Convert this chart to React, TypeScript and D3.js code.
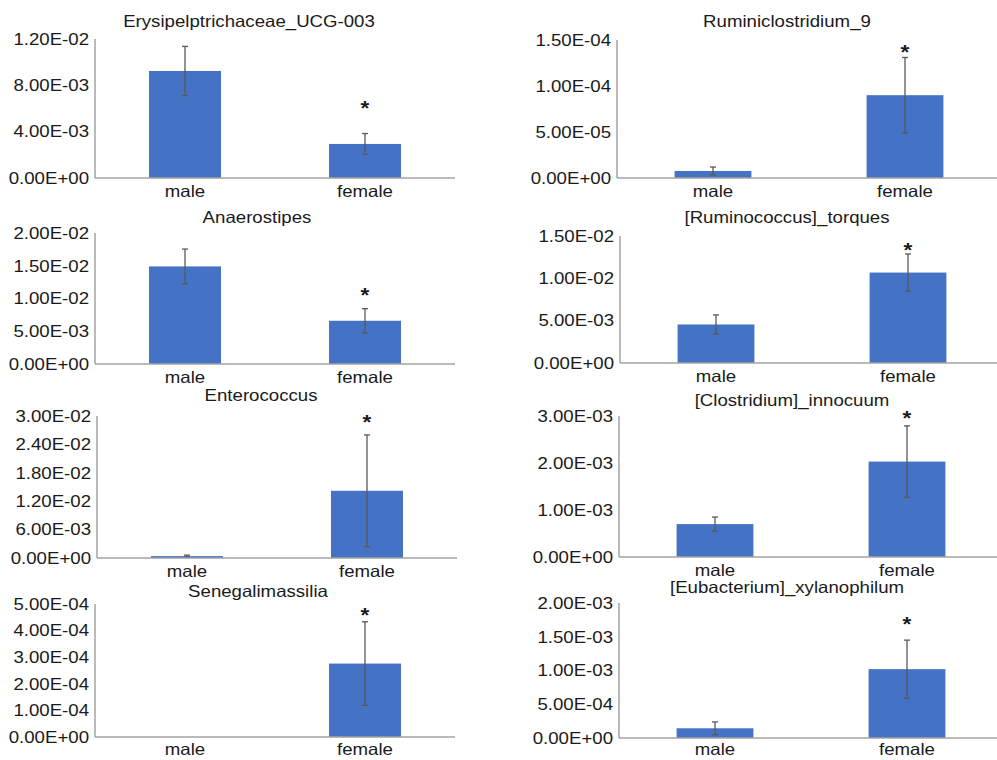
import React from "react";
import * as d3 from "d3";

// chart data
const categories = ["male", "female"];
const titles = [
  "Erysipelptrichaceae_UCG-003",
  "Ruminiclostridium_9",
  "Anaerostipes",
  "[Ruminococcus]_torques",
  "Enterococcus",
  "[Clostridium]_innocuum",
  "Senegalimassilia",
  "[Eubacterium]_xylanophilum",
];
const maleMean = [0.00924, 7.6e-6, 0.0149, 0.00455, 0.0004, 0.0007, 0, 1.44e-4];
const maleSE = [0.00212, 4.3e-6, 0.00265, 0.00113, 0.0002, 0.00015, 0, 9.4e-5];
const femaleMean = [0.00294, 9.0e-5, 0.0066, 0.01068, 0.0142, 0.00203, 2.76e-4, 0.00102];
const femaleSE = [0.0009, 4.1e-5, 0.00185, 0.0022, 0.0118, 0.00076, 1.57e-4, 4.3e-4];
const yMax = [0.012, 1.5e-4, 0.02, 0.015, 0.03, 0.003, 5e-4, 0.002];
const yStep = [0.004, 5e-5, 0.005, 0.005, 0.006, 0.001, 1e-4, 5e-4];
// where the significance star sits (in y units)
const starAt = [0.00647, 1.427e-4, 0.01134, 0.01402, 0.02979, 0.003079, 4.8e-4, 0.001762];

// panel layout (pixels)
const layout = [
  { x0: 95, top: 39, base: 178, w: 360, tx: 249, ty: 27 },
  { x0: 617, top: 40, base: 178, w: 384, tx: 787, ty: 27 },
  { x0: 95, top: 233, base: 364, w: 360, tx: 257, ty: 223 },
  { x0: 620, top: 236, base: 363, w: 384, tx: 787, ty: 223 },
  { x0: 97, top: 416, base: 558, w: 360, tx: 261, ty: 401 },
  { x0: 619, top: 416, base: 557, w: 384, tx: 792, ty: 406 },
  { x0: 95, top: 604, base: 737, w: 360, tx: 258, ty: 597 },
  { x0: 619, top: 603, base: 738, w: 384, tx: 787, ty: 593 },
];

const FONT = "'Liberation Sans', Arial, Helvetica, sans-serif";
const SX = 1.13; // the source figure is a bit stretched sideways

const fmt = (v: number) => {
  const [m, e] = v.toExponential(2).split("e");
  const n = parseInt(e, 10);
  const sign = n < 0 ? "-" : "+";
  return `${m}E${sign}${String(Math.abs(n)).padStart(2, "0")}`;
};

function Label({ x, y, text, anchor = "middle", size = 16.5, dy = "0", weight = "normal" }: any) {
  return (
    <text
      transform={`translate(${x},${y}) scale(${SX},1)`}
      textAnchor={anchor}
      dy={dy}
      fontSize={size}
      fontWeight={weight}
      fontFamily={FONT}
      fill="#1a1a1a"
    >
      {text}
    </text>
  );
}

function Panel({ i }: { i: number }) {
  const L = layout[i];
  const x = d3.scaleBand().domain(categories).range([L.x0, L.x0 + L.w]).paddingInner(0.6).paddingOuter(0.3);
  const y = d3.scaleLinear().domain([0, yMax[i]]).range([L.base, L.top]);
  const ticks = d3.range(0, yMax[i] + yStep[i] / 2, yStep[i]);
  const rows = [
    { cat: categories[0], mean: maleMean[i], se: maleSE[i] },
    { cat: categories[1], mean: femaleMean[i], se: femaleSE[i] },
  ];
  const bw = x.bandwidth();
  return (
    <g>
      <Label x={L.tx} y={L.ty} text={titles[i]} size={16.5} />
      {ticks.map((t) => (
        <Label key={t} x={L.x0 - 6} y={y(t)} text={fmt(t)} anchor="end" dy="0.35em" />
      ))}
      {rows.map((r) =>
        r.mean > 0 ? (
          <rect key={r.cat} x={x(r.cat)} y={y(r.mean)} width={bw} height={y(0) - y(r.mean)} fill="#4472C4" />
        ) : null
      )}
      {rows.map((r) => {
        if (r.se <= 0) return null;
        const cx = (x(r.cat) as number) + bw / 2;
        const y1 = y(r.mean + r.se);
        const y2 = y(Math.max(0, r.mean - r.se));
        return (
          <g key={"e" + r.cat} stroke="#595959" strokeWidth={1.3}>
            <line x1={cx} x2={cx} y1={y1} y2={y2} />
            <line x1={cx - 3} x2={cx + 3} y1={y1} y2={y1} />
            <line x1={cx - 3} x2={cx + 3} y1={y2} y2={y2} />
          </g>
        );
      })}
      <line x1={L.x0} x2={L.x0} y1={L.top} y2={L.base} stroke="#a3a3a3" strokeWidth={1.5} />
      <line x1={L.x0} x2={L.x0 + L.w} y1={L.base} y2={L.base} stroke="#a3a3a3" strokeWidth={1.5} />
      {categories.map((c) => (
        <Label key={c} x={(x(c) as number) + bw / 2} y={Math.min(L.base + 19, 755)} text={c} />
      ))}
      <Label
        x={(x(categories[1]) as number) + bw / 2}
        y={y(starAt[i])}
        text="*"
        size={20}
        dy="0.62em"
        weight="bold"
      />
    </g>
  );
}

export default function App() {
  return (
    <svg
      width={997}
      height={760}
      style={{ position: "absolute", left: 0, top: 0, background: "#fff" }}
    >
      <rect width={997} height={760} fill="#fff" />
      {titles.map((_, i) => (
        <Panel key={i} i={i} />
      ))}
    </svg>
  );
}
